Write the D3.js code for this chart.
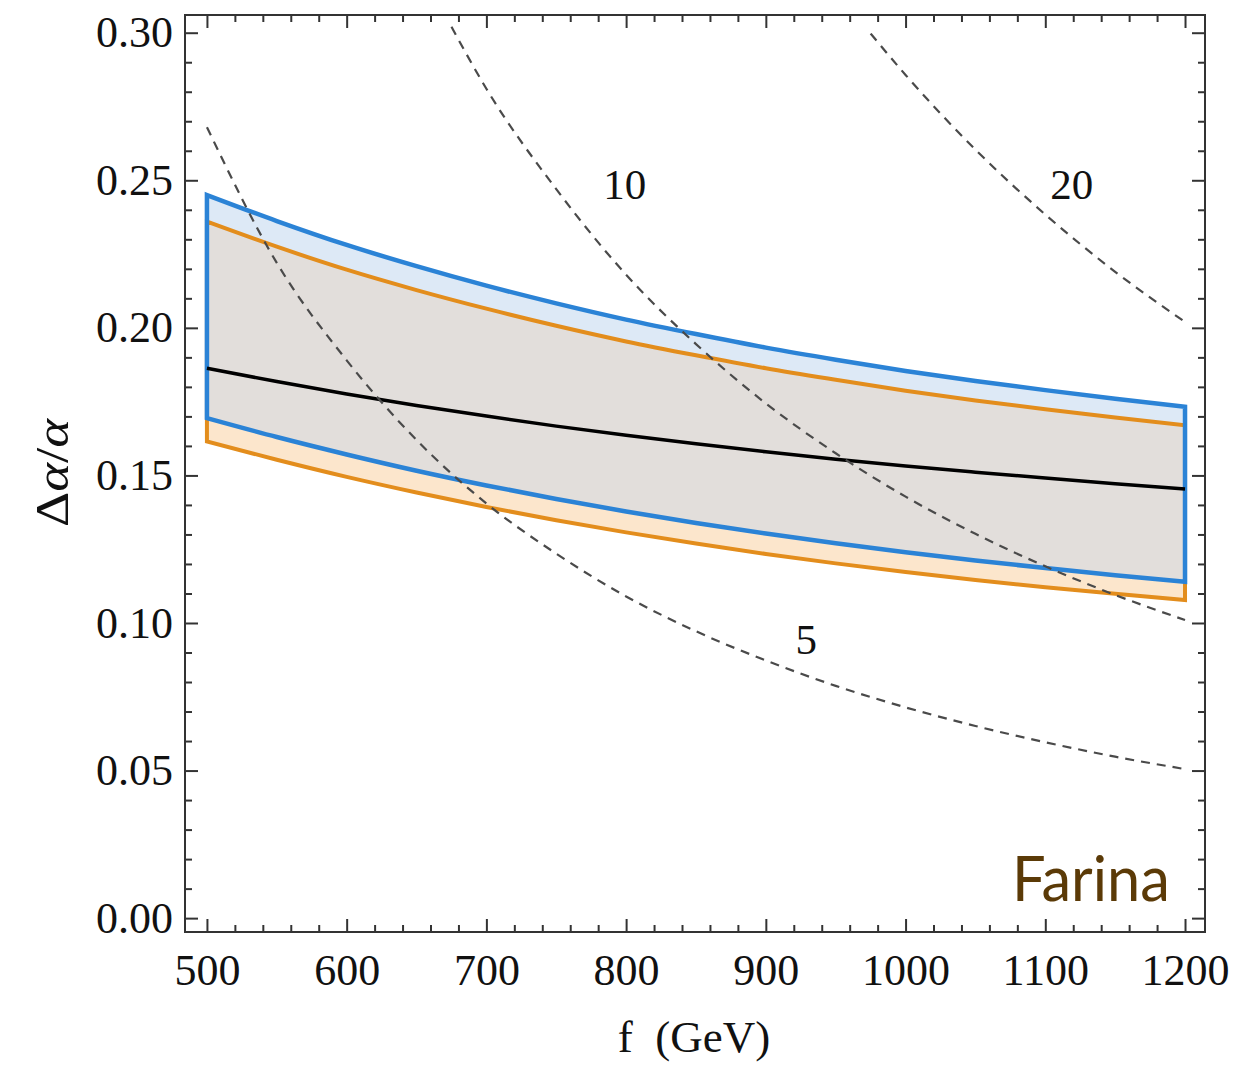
<!DOCTYPE html>
<html>
<head>
<meta charset="utf-8">
<script src="https://cdn.jsdelivr.net/npm/d3@7"></script>
<style>
  html, body { margin: 0; padding: 0; background: #fff; }
  svg { display: block; }
</style>
</head>
<body>
<svg id="chart" width="1254" height="1066"></svg>
<script>
// ---------- data ----------
const fGrid = [500, 550, 600, 650, 700, 750, 800, 850, 900, 950, 1000, 1050, 1100, 1150, 1200];

const blueUpper   = [0.2450, 0.2362, 0.2281, 0.2209, 0.2143, 0.2083, 0.2028, 0.1979, 0.1933, 0.1892, 0.1854, 0.1820, 0.1789, 0.1760, 0.1733];
const blueLower   = [0.1694, 0.1630, 0.1571, 0.1516, 0.1466, 0.1420, 0.1378, 0.1339, 0.1303, 0.1270, 0.1240, 0.1212, 0.1186, 0.1162, 0.1140];
const orangeUpper = [0.2360, 0.2275, 0.2197, 0.2128, 0.2065, 0.2007, 0.1954, 0.1907, 0.1863, 0.1824, 0.1787, 0.1754, 0.1724, 0.1696, 0.1670];
const orangeLower = [0.1615, 0.1553, 0.1495, 0.1442, 0.1393, 0.1348, 0.1307, 0.1269, 0.1234, 0.1202, 0.1173, 0.1146, 0.1121, 0.1099, 0.1078];
const central     = [0.1863, 0.1818, 0.1776, 0.1737, 0.1701, 0.1667, 0.1636, 0.1607, 0.1580, 0.1555, 0.1532, 0.1511, 0.1491, 0.1472, 0.1454];

// dashed contours
const contour5F  = [500, 550, 600, 650, 700, 750, 800, 850, 900, 950, 1000, 1050, 1100, 1150, 1200];
const contour5V  = [0.268, 0.222, 0.189, 0.162, 0.1405, 0.1235, 0.109, 0.0972, 0.0873, 0.0787, 0.0714, 0.0651, 0.0596, 0.0547, 0.0505];
const contour10F = [675, 700, 750, 800, 850, 900, 950, 1000, 1050, 1100, 1150, 1200];
const contour10V = [0.302, 0.281, 0.247, 0.218, 0.1945, 0.1744, 0.1575, 0.1428, 0.1302, 0.1192, 0.1095, 0.101];
const contour20F = [975, 1000, 1050, 1100, 1150, 1200];
const contour20V = [0.2997, 0.2857, 0.2604, 0.2384, 0.2190, 0.202];

const contourLabels = [
  {text: "5",  f: 929,  v: 0.0895},
  {text: "10", f: 799,  v: 0.2437},
  {text: "20", f: 1119, v: 0.2437}
];

const xMajorTicks = [500, 600, 700, 800, 900, 1000, 1100, 1200];
const yMajorTicks = [0.00, 0.05, 0.10, 0.15, 0.20, 0.25, 0.30];
const yTickLabels = ["0.00", "0.05", "0.10", "0.15", "0.20", "0.25", "0.30"];

// ---------- layout ----------
const svg = d3.select("#chart");
const frame = {left: 185, right: 1205, top: 15, bottom: 932};
const serif = "Liberation Serif, Times New Roman, serif";

const x = d3.scaleLinear().domain([484.3, 1214.3]).range([frame.left, frame.right]);
const y = d3.scaleLinear().domain([-0.0047, 0.306]).range([frame.bottom, frame.top]);

const xMinor = d3.range(480, 1220, 20).filter(v => v >= 484.3 && v <= 1214.3 && v % 100 !== 0);
const yMinor = d3.range(0, 31).map(i => i / 100).filter(v => (Math.round(v * 100) % 5) !== 0);

svg.append("defs").append("clipPath").attr("id", "plotclip")
  .append("rect").attr("x", frame.left).attr("y", frame.top)
  .attr("width", frame.right - frame.left).attr("height", frame.bottom - frame.top);

const plot = svg.append("g").attr("clip-path", "url(#plotclip)");

const curve = d3.curveMonotoneX;
const band = (lo, hi) => d3.area()
  .x((d, i) => x(fGrid[i]))
  .y0((d, i) => y(lo[i]))
  .y1((d, i) => y(hi[i]))
  .curve(curve)(fGrid);

// fills
plot.append("path").attr("d", band(orangeLower, orangeUpper)).attr("fill", "#fce6cc");
plot.append("path").attr("d", band(blueLower, blueUpper)).attr("fill", "#dde9f6");
plot.append("path").attr("d", band(blueLower, orangeUpper)).attr("fill", "#e2dedb");

// outlines
plot.append("path").attr("d", band(orangeLower, orangeUpper))
  .attr("fill", "none").attr("stroke", "#e38d1c").attr("stroke-width", 4).attr("stroke-linejoin", "miter");
plot.append("path").attr("d", band(blueLower, blueUpper))
  .attr("fill", "none").attr("stroke", "#2b83d6").attr("stroke-width", 4.5).attr("stroke-linejoin", "miter");

// central line
plot.append("path")
  .attr("d", d3.line().x((d, i) => x(fGrid[i])).y(d => y(d)).curve(curve)(central))
  .attr("fill", "none").attr("stroke", "#000").attr("stroke-width", 3.5);

// dashed contours
const dashLine = (fs, vs) => d3.line().x((d, i) => x(fs[i])).y(d => y(d)).curve(d3.curveMonotoneX)(vs);
[[contour5F, contour5V], [contour10F, contour10V], [contour20F, contour20V]].forEach(([fs, vs]) => {
  plot.append("path").attr("d", dashLine(fs, vs))
    .attr("fill", "none").attr("stroke", "#4a4a4a").attr("stroke-width", 2.2)
    .attr("stroke-dasharray", "9,7");
});

// contour labels
svg.append("g").selectAll("text").data(contourLabels).join("text")
  .attr("x", d => x(d.f)).attr("y", d => y(d.v))
  .attr("text-anchor", "middle")
  .attr("font-family", serif)
  .attr("font-size", 43).attr("fill", "#111")
  .text(d => d.text);

// ---------- frame + axes ----------
const axisStyle = g => {
  g.select(".domain").remove();
  g.selectAll(".tick line").attr("stroke", "#333").attr("stroke-width", 2);
  g.selectAll(".tick text").attr("font-family", serif)
    .attr("font-size", 44).attr("fill", "#111");
};

// bottom
svg.append("g").attr("transform", `translate(0,${frame.bottom})`)
  .call(d3.axisBottom(x).tickValues(xMajorTicks).tickSizeInner(-13).tickSizeOuter(0).tickPadding(22).tickFormat(d3.format("d")))
  .call(axisStyle);
svg.append("g").attr("transform", `translate(0,${frame.bottom})`)
  .call(d3.axisBottom(x).tickValues(xMinor).tickSizeInner(-7).tickSizeOuter(0).tickFormat(""))
  .call(axisStyle);
// top
svg.append("g").attr("transform", `translate(0,${frame.top})`)
  .call(d3.axisTop(x).tickValues(xMajorTicks).tickSizeInner(-13).tickSizeOuter(0).tickFormat(""))
  .call(axisStyle);
svg.append("g").attr("transform", `translate(0,${frame.top})`)
  .call(d3.axisTop(x).tickValues(xMinor).tickSizeInner(-7).tickSizeOuter(0).tickFormat(""))
  .call(axisStyle);
// left
svg.append("g").attr("transform", `translate(${frame.left},0)`)
  .call(d3.axisLeft(y).tickValues(yMajorTicks).tickSizeInner(-13).tickSizeOuter(0).tickPadding(12)
    .tickFormat((d, i) => yTickLabels[i]))
  .call(axisStyle);
svg.append("g").attr("transform", `translate(${frame.left},0)`)
  .call(d3.axisLeft(y).tickValues(yMinor).tickSizeInner(-7).tickSizeOuter(0).tickFormat(""))
  .call(axisStyle);
// right
svg.append("g").attr("transform", `translate(${frame.right},0)`)
  .call(d3.axisRight(y).tickValues(yMajorTicks).tickSizeInner(-13).tickSizeOuter(0).tickFormat(""))
  .call(axisStyle);
svg.append("g").attr("transform", `translate(${frame.right},0)`)
  .call(d3.axisRight(y).tickValues(yMinor).tickSizeInner(-7).tickSizeOuter(0).tickFormat(""))
  .call(axisStyle);

// frame rectangle
svg.append("rect").attr("x", frame.left).attr("y", frame.top)
  .attr("width", frame.right - frame.left).attr("height", frame.bottom - frame.top)
  .attr("fill", "none").attr("stroke", "#333").attr("stroke-width", 2);

// axis titles
svg.append("text")
  .attr("x", 694).attr("y", 1052).attr("text-anchor", "middle")
  .attr("font-family", serif)
  .attr("font-size", 45).attr("fill", "#111")
  .attr("xml:space", "preserve")
  .text("f  (GeV)");

const yt = svg.append("text")
  .attr("transform", "translate(68,473) rotate(-90)")
  .attr("text-anchor", "middle")
  .attr("font-family", serif)
  .attr("font-size", 46).attr("fill", "#111")
  .attr("textLength", 108).attr("lengthAdjust", "spacingAndGlyphs");
yt.append("tspan").text("Δ");
yt.append("tspan").attr("font-style", "italic").text("α");
yt.append("tspan").text("/");
yt.append("tspan").attr("font-style", "italic").text("α");

// watermark
svg.append("text")
  .attr("x", 1170).attr("y", 901).attr("text-anchor", "end")
  .attr("font-family", "Lato, Open Sans, sans-serif")
  .attr("font-size", 62).attr("fill", "#5b3a07")
  .attr("textLength", 158).attr("lengthAdjust", "spacingAndGlyphs")
  .text("Farina");
</script>
</body>
</html>
